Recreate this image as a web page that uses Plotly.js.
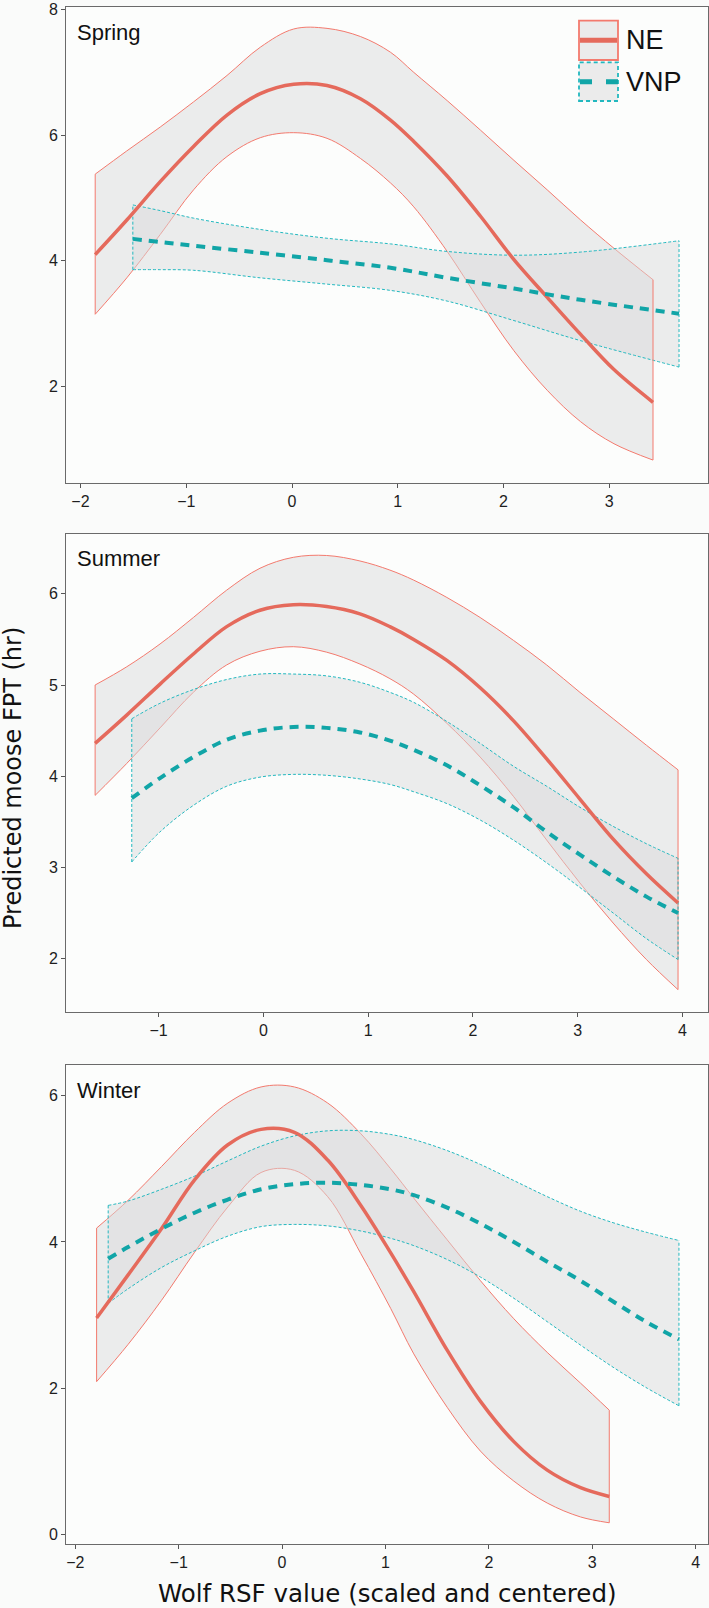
<!DOCTYPE html>
<html>
<head>
<meta charset="utf-8">
<script src="https://cdn.plot.ly/plotly-3.0.1.min.js"></script>
<style>html,body{margin:0;padding:0;background:#fafbfa;}#chart{width:709px;height:1608px;}</style>
</head>
<body>
<div id="chart"></div>
<script>
// ---------------- DATA ----------------
const panelNames = ["Spring", "Summer", "Winter"];
const seriesNames = ["NE", "VNP"];
const xAxisTitle = "Wolf RSF value (scaled and centered)";
const yAxisTitle = "Predicted moose FPT (hr)";

// Spring
const springNE_x   = [-1.861, -1.562, -1.246, -0.931, -0.615, -0.300, 0.016, 0.331, 0.647, 0.931, 1.151, 1.467, 1.782, 2.098, 2.413, 2.729, 3.044, 3.413];
const springNE_fit = [4.10, 4.65, 5.26, 5.82, 6.32, 6.66, 6.81, 6.79, 6.58, 6.24, 5.90, 5.35, 4.71, 4.02, 3.42, 2.83, 2.27, 1.75];
const springNE_lo  = [3.15, 3.73, 4.42, 5.13, 5.66, 5.96, 6.04, 5.95, 5.63, 5.24, 4.86, 4.15, 3.34, 2.57, 1.94, 1.44, 1.09, 0.83];
const springNE_hi  = [5.38, 5.75, 6.13, 6.53, 6.95, 7.40, 7.69, 7.70, 7.57, 7.32, 7.00, 6.55, 6.08, 5.60, 5.13, 4.65, 4.20, 3.70];
const springVNP_x   = [-1.505, -1.246, -0.931, -0.300, 0.331, 0.931, 1.467, 2.098, 2.729, 3.659];
const springVNP_fit = [4.35, 4.30, 4.24, 4.13, 4.01, 3.89, 3.73, 3.56, 3.38, 3.16];
const springVNP_lo  = [3.86, 3.86, 3.85, 3.73, 3.63, 3.53, 3.36, 3.05, 2.73, 2.31];
const springVNP_hi  = [4.89, 4.80, 4.68, 4.50, 4.36, 4.27, 4.15, 4.09, 4.14, 4.32];

// Summer
const summerNE_x   = [-1.606, -1.304, -0.986, -0.668, -0.350, -0.032, 0.286, 0.604, 0.922, 1.208, 1.435, 1.752, 2.070, 2.387, 2.705, 3.022, 3.340, 3.657, 3.959];
const summerNE_fit = [4.36, 4.67, 5.01, 5.34, 5.64, 5.82, 5.88, 5.86, 5.78, 5.64, 5.50, 5.27, 4.97, 4.61, 4.19, 3.75, 3.31, 2.93, 2.61];
const summerNE_lo  = [3.79, 4.14, 4.53, 4.92, 5.22, 5.37, 5.42, 5.36, 5.23, 5.07, 4.90, 4.58, 4.21, 3.78, 3.30, 2.83, 2.39, 1.99, 1.66];
const summerNE_hi  = [5.00, 5.20, 5.45, 5.74, 6.04, 6.28, 6.40, 6.42, 6.36, 6.26, 6.15, 5.96, 5.74, 5.49, 5.22, 4.92, 4.63, 4.34, 4.07];
const summerVNP_x   = [-1.256, -0.986, -0.668, -0.350, -0.032, 0.286, 0.604, 0.922, 1.208, 1.435, 1.752, 2.070, 2.387, 2.705, 3.022, 3.340, 3.657, 3.959];
const summerVNP_fit = [3.76, 3.98, 4.21, 4.40, 4.50, 4.54, 4.53, 4.48, 4.39, 4.29, 4.12, 3.90, 3.66, 3.39, 3.14, 2.90, 2.68, 2.50];
const summerVNP_lo  = [3.06, 3.39, 3.68, 3.89, 3.99, 4.02, 4.01, 3.97, 3.91, 3.83, 3.70, 3.52, 3.30, 3.05, 2.78, 2.50, 2.22, 1.99];
const summerVNP_hi  = [4.63, 4.80, 4.95, 5.06, 5.12, 5.12, 5.10, 5.03, 4.92, 4.81, 4.60, 4.36, 4.11, 3.89, 3.66, 3.45, 3.26, 3.10];

// Winter
const winterNE_x   = [-1.794, -1.489, -1.167, -0.846, -0.524, -0.203, 0.119, 0.441, 0.762, 1.051, 1.274, 1.597, 1.919, 2.242, 2.565, 2.887, 3.165];
const winterNE_fit = [2.96, 3.55, 4.18, 4.85, 5.33, 5.54, 5.50, 5.12, 4.50, 3.85, 3.32, 2.52, 1.82, 1.27, 0.88, 0.64, 0.52];
const winterNE_lo  = [2.09, 2.60, 3.20, 3.86, 4.48, 4.95, 4.98, 4.62, 3.84, 3.09, 2.47, 1.74, 1.14, 0.73, 0.43, 0.24, 0.16];
const winterNE_hi  = [4.19, 4.57, 5.03, 5.50, 5.90, 6.12, 6.12, 5.90, 5.48, 5.00, 4.60, 4.03, 3.47, 2.95, 2.49, 2.07, 1.70];
const winterVNP_x   = [-1.682, -1.489, -1.167, -0.846, -0.524, -0.203, 0.119, 0.441, 0.762, 1.051, 1.274, 1.597, 1.919, 2.242, 2.565, 2.887, 3.210, 3.532, 3.839];
const winterVNP_fit = [3.77, 3.93, 4.18, 4.40, 4.58, 4.72, 4.79, 4.81, 4.78, 4.72, 4.64, 4.47, 4.25, 4.00, 3.73, 3.47, 3.18, 2.90, 2.67];
const winterVNP_lo  = [3.16, 3.36, 3.65, 3.88, 4.08, 4.21, 4.24, 4.22, 4.15, 4.05, 3.95, 3.76, 3.52, 3.23, 2.91, 2.59, 2.28, 2.00, 1.76];
const winterVNP_hi  = [4.50, 4.56, 4.72, 4.90, 5.11, 5.31, 5.45, 5.52, 5.52, 5.47, 5.40, 5.25, 5.06, 4.84, 4.62, 4.42, 4.26, 4.13, 4.02];

// ---------------- STYLE / LAYOUT ----------------
const W = 709, H = 1608, ML = 66, MR = 1, MT = 7, MB = 64;
const PW = W - ML - MR, PH = H - MT - MB;
const px = v => (v - ML) / PW;
const py = v => (H - MB - v) / PH;

const NE_EDGE = '#f37a6e', NE_FIT = '#e56a5c';
const VNP_EDGE = '#22b8bf', VNP_FIT = '#11a5a7';
const BAND = 'rgba(218,218,220,0.48)';

const panels = [
  {NE: [springNE_x, springNE_fit, springNE_lo, springNE_hi], VNP: [springVNP_x, springVNP_fit, springVNP_lo, springVNP_hi],
   xr: [-2.137, 3.933], yr: [0.473, 8.04], dy: 2, dom: [py(482.5), 1]},
  {NE: [summerNE_x, summerNE_fit, summerNE_lo, summerNE_hi], VNP: [summerVNP_x, summerVNP_fit, summerVNP_lo, summerVNP_hi],
   xr: [-1.884, 4.245], yr: [1.415, 6.66], dy: 1, dom: [py(1012), py(533.6)]},
  {NE: [winterNE_x, winterNE_fit, winterNE_lo, winterNE_hi], VNP: [winterVNP_x, winterVNP_fit, winterVNP_lo, winterVNP_hi],
   xr: [-2.09, 4.12], yr: [-0.13, 6.42], dy: 2, dom: [0, py(1065)]}
];

const traces = [];
const layout = {
  width: W, height: H,
  margin: {l: ML, r: MR, t: MT, b: MB, pad: 0},
  paper_bgcolor: '#fafbfa', plot_bgcolor: '#fcfdfc',
  showlegend: false,
  font: {family: 'Liberation Sans, Arial, sans-serif', color: '#1a1a1a'},
  annotations: [], shapes: []
};

panels.forEach((p, i) => {
  const n = i === 0 ? '' : String(i + 1);
  const xa = 'x' + n, ya = 'y' + n;
  const [nx, nf, nl, nh] = p.NE;
  const [vx, vf, vl, vh] = p.VNP;
  const nE = nx.length - 1, vE = vx.length - 1;
  // NE band
  traces.push({x: nx, y: nl, xaxis: xa, yaxis: ya, mode: 'lines', line: {color: NE_EDGE, width: 1, shape: 'spline'}, hoverinfo: 'skip'});
  traces.push({x: nx, y: nh, xaxis: xa, yaxis: ya, mode: 'lines', fill: 'tonexty', fillcolor: BAND, line: {color: NE_EDGE, width: 1, shape: 'spline'}, hoverinfo: 'skip'});
  // VNP band
  traces.push({x: vx, y: vl, xaxis: xa, yaxis: ya, mode: 'lines', line: {color: VNP_EDGE, width: 1, dash: '3px,2px', shape: 'spline'}, hoverinfo: 'skip'});
  traces.push({x: vx, y: vh, xaxis: xa, yaxis: ya, mode: 'lines', fill: 'tonexty', fillcolor: BAND, line: {color: VNP_EDGE, width: 1, dash: '3px,2px', shape: 'spline'}, hoverinfo: 'skip'});
  // band end edges
  traces.push({x: [nx[0], nx[0], null, nx[nE], nx[nE]], y: [nl[0], nh[0], null, nl[nE], nh[nE]], xaxis: xa, yaxis: ya, mode: 'lines', line: {color: NE_EDGE, width: 1}, hoverinfo: 'skip'});
  traces.push({x: [vx[0], vx[0], null, vx[vE], vx[vE]], y: [vl[0], vh[0], null, vl[vE], vh[vE]], xaxis: xa, yaxis: ya, mode: 'lines', line: {color: VNP_EDGE, width: 1, dash: '3px,2px'}, hoverinfo: 'skip'});
  // fits
  traces.push({x: nx, y: nf, xaxis: xa, yaxis: ya, mode: 'lines', name: seriesNames[0], line: {color: NE_FIT, width: 3.5, shape: 'spline'}});
  traces.push({x: vx, y: vf, xaxis: xa, yaxis: ya, mode: 'lines', name: seriesNames[1], line: {color: VNP_FIT, width: 4, dash: '9px,7px', shape: 'spline'}});

  const axCommon = {showgrid: false, zeroline: false, showline: true, mirror: true, linecolor: '#6a6a6a', linewidth: 1,
    ticks: 'outside', ticklen: 4, tickwidth: 1, tickcolor: '#555', ticklabeloverflow: 'allow',
    tickfont: {family: 'Liberation Sans, Arial, sans-serif', size: 16, color: '#1e1e1e'}};
  layout['xaxis' + n] = Object.assign({}, axCommon, {domain: [0, 1], anchor: ya, range: p.xr, dtick: 1, tick0: 0});
  layout['yaxis' + n] = Object.assign({}, axCommon, {domain: p.dom, anchor: xa, range: p.yr, dtick: p.dy, tick0: 0});

  layout.annotations.push({text: panelNames[i], xref: xa + ' domain', yref: ya + ' domain', x: 9 / PW,
    y: 1 - 25 / ((p.dom[1] - p.dom[0]) * PH), xanchor: 'left', yanchor: 'middle', showarrow: false,
    font: {family: 'Liberation Sans, Arial, sans-serif', size: 22, color: '#111'}});
});

// axis titles
layout.annotations.push({text: yAxisTitle, xref: 'paper', yref: 'paper', x: px(13), y: py(778), textangle: -90,
  xanchor: 'center', yanchor: 'middle', showarrow: false, font: {family: 'DejaVu Sans, Verdana, sans-serif', size: 24, color: '#111'}});
layout.annotations.push({text: xAxisTitle, xref: 'paper', yref: 'paper', x: px(387), y: py(1594),
  xanchor: 'center', yanchor: 'middle', showarrow: false, font: {family: 'DejaVu Sans, Verdana, sans-serif', size: 24.5, color: '#111'}});

// legend (drawn manually)
layout.shapes.push({type: 'rect', xref: 'paper', yref: 'paper', x0: px(579), x1: px(618), y0: py(60), y1: py(20.7),
  fillcolor: '#ebebeb', line: {color: NE_EDGE, width: 1.8}});
layout.shapes.push({type: 'line', xref: 'paper', yref: 'paper', x0: px(580), x1: px(617), y0: py(40.3), y1: py(40.3),
  line: {color: NE_FIT, width: 5}});
layout.shapes.push({type: 'rect', xref: 'paper', yref: 'paper', x0: px(579), x1: px(618), y0: py(101), y1: py(62.3),
  fillcolor: '#ebebeb', line: {color: VNP_EDGE, width: 1.8, dash: '4px,3px'}});
layout.shapes.push({type: 'line', xref: 'paper', yref: 'paper', x0: px(580), x1: px(618), y0: py(81.7), y1: py(81.7),
  line: {color: VNP_FIT, width: 5, dash: '12px,14px'}});
layout.annotations.push({text: seriesNames[0], xref: 'paper', yref: 'paper', x: px(624), y: py(40.3), xanchor: 'left', yanchor: 'middle',
  showarrow: false, font: {family: 'Liberation Sans, Arial, sans-serif', size: 27, color: '#111'}});
layout.annotations.push({text: seriesNames[1], xref: 'paper', yref: 'paper', x: px(624), y: py(81.7), xanchor: 'left', yanchor: 'middle',
  showarrow: false, font: {family: 'Liberation Sans, Arial, sans-serif', size: 27, color: '#111'}});

Plotly.newPlot('chart', traces, layout, {displayModeBar: false, staticPlot: true});
</script>
</body>
</html>
